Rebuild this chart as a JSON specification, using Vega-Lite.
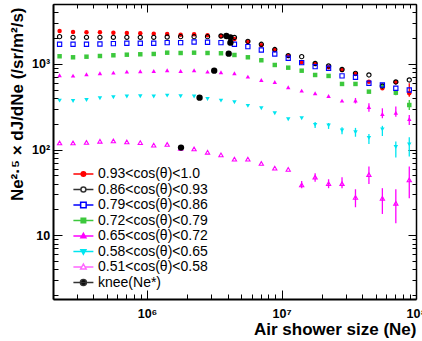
{
  "$schema": "https://vega.github.io/schema/vega-lite/v6.json",
  "width": 363,
  "height": 295,
  "autosize": {"type": "none"},
  "padding": {"left": 53, "top": 4, "right": 6, "bottom": 42},
  "background": "white",
  "config": {
    "view": {"stroke": null},
    "axis": {"grid": false, "tickColor": "black", "domainColor": "black", "tickWidth": 1, "labelFont": "Liberation Sans", "titleFont": "Liberation Sans", "labelColor": "black", "titleColor": "black"},
    "legend": {"rowPadding": 1.5}
  },
  "datasets": {
    "pts": [
      {"x": 223872, "a": 2421, "b": 2077, "c": 1693, "d": 1227, "e": 736, "f": 372, "g": 119.4},
      {"x": 281838, "a": 2357, "b": 2043, "c": 1693, "d": 1194, "e": 729, "f": 369, "g": 119.4},
      {"x": 354813, "a": 2338, "b": 2043, "c": 1693, "d": 1213, "e": 756, "f": 379, "g": 121},
      {"x": 446684, "a": 2338, "b": 2043, "c": 1707, "d": 1236, "e": 777, "f": 397, "g": 125},
      {"x": 562341, "a": 2313, "b": 2043, "c": 1721, "d": 1260, "e": 790, "f": 408, "g": 126},
      {"x": 707946, "a": 2294, "b": 2043, "c": 1740, "d": 1280, "e": 811, "f": 416, "g": 122.6},
      {"x": 891251, "a": 2276, "b": 2043, "c": 1740, "d": 1294, "e": 820, "f": 419, "g": 120.4},
      {"x": 1122018, "a": 2251, "b": 2043, "c": 1740, "d": 1305, "e": 826, "f": 416, "g": 112.5},
      {"x": 1412538, "a": 2233, "b": 2060, "c": 1768, "d": 1351, "e": 842, "f": 426, "g": 114.6},
      {"x": 1778279, "a": 2192, "b": 2077, "c": 1768, "d": 1340, "e": 826, "f": 419, "g": 103.5},
      {"x": 2238721, "a": 2215, "b": 2077, "c": 1801, "d": 1351, "e": 842, "f": 416, "g": 101.6},
      {"x": 2818383, "a": 2157, "b": 2077, "c": 1787, "d": 1340, "e": 811, "f": 389, "g": 93},
      {"x": 3548134, "a": 2116, "b": 2116, "c": 1768, "d": 1330, "e": 798, "f": 372, "g": 86.5},
      {"x": 4466836, "a": 1953, "b": 2033, "c": 1693, "d": 1270, "e": 777, "f": 356, "g": 77.3},
      {"x": 5623413, "a": 1816, "b": 1830, "c": 1588, "d": 1194, "e": 709, "f": 323, "g": 77.3},
      {"x": 7079458, "a": 1649, "b": 1693, "c": 1453, "d": 1102, "e": 649, "f": 303, "g": 68.8},
      {"x": 8912509, "a": 1453, "b": 1470, "c": 1305, "d": 971, "e": 615, "f": 265, "g": 60.7},
      {"x": 11220185, "a": 1236, "b": 1250, "c": 1162, "d": 903, "e": 533, "f": 226, "g": 58.6},
      {"x": 14125375, "a": 1044, "b": 1213, "c": 1033, "d": 833, "e": 487, "f": 232, "g": 38.6},
      {"x": 17782794, "a": 998, "b": 1010, "c": 928, "d": 742, "e": 454, "f": 194, "g": 47.5},
      {"x": 22387211, "a": 913, "b": 945, "c": 889, "d": 723, "e": 422, "f": 191, "g": 39.9},
      {"x": 28183829, "a": 849, "b": 860, "c": 723, "d": 583, "e": 372, "f": 167, "g": 39.9},
      {"x": 35481339, "a": 762, "b": 775, "c": 698, "d": 583, "e": 374, "f": 159, "g": 27.6},
      {"x": 44668359, "a": 620, "b": 742, "c": 594, "d": 474, "e": 314, "f": 137, "g": 50.9},
      {"x": 56234133, "a": 519, "b": 552, "c": 567, "d": 552, "e": 260, "f": 172, "g": 27.0},
      {"x": 70794578, "a": 610, "b": 615, "c": 519, "d": 461, "e": 269, "f": 107, "g": 23.6},
      {"x": 89125094, "a": 454, "b": 649, "c": 496, "d": 331, "e": 227, "f": 115, "g": 44.2}
    ],
    "err": [
      {"s": "g", "x": 14125375, "lo": 35.4, "hi": 43.0},
      {"s": "g", "x": 17782794, "lo": 42.2, "hi": 52.9},
      {"s": "g", "x": 22387211, "lo": 35.4, "hi": 45.0},
      {"s": "g", "x": 28183829, "lo": 35.4, "hi": 47.5},
      {"s": "g", "x": 35481339, "lo": 21.2, "hi": 34.4},
      {"s": "g", "x": 44668359, "lo": 39.7, "hi": 63.2},
      {"s": "g", "x": 56234133, "lo": 17.7, "hi": 35.4},
      {"s": "g", "x": 70794578, "lo": 13.8, "hi": 34.4},
      {"s": "g", "x": 89125094, "lo": 27.0, "hi": 63.2},
      {"s": "f", "x": 17782794, "lo": 179, "hi": 210},
      {"s": "f", "x": 22387211, "lo": 174, "hi": 204},
      {"s": "f", "x": 28183829, "lo": 151, "hi": 182},
      {"s": "f", "x": 35481339, "lo": 141, "hi": 179},
      {"s": "f", "x": 44668359, "lo": 116, "hi": 152},
      {"s": "f", "x": 56234133, "lo": 144, "hi": 189},
      {"s": "f", "x": 70794578, "lo": 81, "hi": 124},
      {"s": "f", "x": 89125094, "lo": 83, "hi": 139},
      {"s": "e", "x": 35481339, "lo": 345, "hi": 400},
      {"s": "e", "x": 44668359, "lo": 277, "hi": 347},
      {"s": "e", "x": 56234133, "lo": 232, "hi": 303},
      {"s": "e", "x": 70794578, "lo": 242, "hi": 317},
      {"s": "e", "x": 89125094, "lo": 194, "hi": 253},
      {"s": "d", "x": 70794578, "lo": 430, "hi": 495},
      {"s": "d", "x": 89125094, "lo": 290, "hi": 379},
      {"s": "a", "x": 89125094, "lo": 414, "hi": 594}
    ],
    "knee": [
      {"x": 3890000, "y": 2117},
      {"x": 4170000, "y": 2043},
      {"x": 4170000, "y": 1768},
      {"x": 4050000, "y": 1315},
      {"x": 3160000, "y": 833},
      {"x": 2460000, "y": 403},
      {"x": 1790000, "y": 105.3}
    ]
  },
  "resolve": {
    "scale": {"color": "independent", "shape": "independent", "fill": "independent", "stroke": "independent"},
    "axis": {"x": "independent", "y": "independent"}
  },
  "layer": [
    {
      "data": {"name": "err"},
      "mark": {"type": "rule", "strokeWidth": 1.3},
      "encoding": {
        "x": {"field": "x", "type": "quantitative",
          "scale": {"type": "log", "domain": [200000, 100000000], "nice": false},
          "axis": {"orient": "bottom", "values": [1000000, 10000000, 100000000], "tickSize": -9, "domainWidth": 2,
            "labelExpr": "datum.value == 1000000 ? '10⁶' : datum.value == 10000000 ? '10⁷' : '10⁸'",
            "labelFontWeight": "bold", "labelFontSize": 12.5, "labelPadding": 17, "labelFlush": false, "labelOverlap": false,
            "title": "Air shower size (Ne)", "titleFontSize": 17, "titleFontWeight": "bold",
            "titleX": 363, "titleY": 30, "titleAlign": "right", "titleBaseline": "middle"}},
        "y": {"field": "lo", "type": "quantitative",
          "scale": {"type": "log", "domain": [1.8, 5000], "nice": false},
          "axis": {"orient": "left", "values": [10, 100, 1000], "tickSize": -9, "domainWidth": 2,
            "labelExpr": "datum.value == 10 ? '10' : datum.value == 100 ? '10²' : '10³'",
            "labelFontWeight": "bold", "labelFontSize": 12.5, "labelPadding": 12.3, "labelFlush": false, "labelOverlap": false,
            "title": "Ne²·⁵ × dJ/dNe (/sr/m²/s)", "titleFontSize": 17, "titleFontWeight": "bold",
            "titleX": -36, "titleY": 3, "titleAngle": -90, "titleAlign": "right", "titleBaseline": "middle"}},
        "y2": {"field": "hi"},
        "color": {"field": "s", "type": "nominal",
          "scale": {"domain": ["a", "d", "e", "f", "g"], "range": ["#ff0000", "#3cc83c", "#ff00ff", "#00e5f0", "#ff00ff"]},
          "legend": null}
      }
    },
    {
      "data": {"name": "pts"},
      "transform": [
        {"fold": ["a", "b", "c", "d", "e", "f", "g"], "as": ["s", "y"]},
        {"filter": {"field": "s", "oneOf": ["a", "d", "e", "f"]}}
      ],
      "mark": {"type": "point", "filled": true, "opacity": 1, "size": 20},
      "encoding": {
        "x": {"field": "x", "type": "quantitative",
          "scale": {"type": "log", "domain": [200000, 100000000], "nice": false},
          "axis": {"orient": "bottom", "values": [200000, 300000, 400000, 500000, 600000, 700000, 800000, 900000, 2000000, 3000000, 4000000, 5000000, 6000000, 7000000, 8000000, 9000000, 20000000, 30000000, 40000000, 50000000, 60000000, 70000000, 80000000, 90000000],
            "tickSize": -5, "labels": false, "domain": false, "title": null}},
        "y": {"field": "y", "type": "quantitative",
          "scale": {"type": "log", "domain": [1.8, 5000], "nice": false},
          "axis": {"orient": "left", "values": [2, 3, 4, 5, 6, 7, 8, 9, 20, 30, 40, 50, 60, 70, 80, 90, 200, 300, 400, 500, 600, 700, 800, 900, 2000, 3000, 4000, 5000],
            "tickSize": -5, "labels": false, "domain": false, "title": null}},
        "color": {"field": "s", "type": "nominal",
          "scale": {"domain": ["a", "d", "e", "f"], "range": ["#ff0000", "#3cc83c", "#ff00ff", "#00e5f0"]}, "legend": null},
        "shape": {"field": "s", "type": "nominal",
          "scale": {"domain": ["a", "d", "e", "f"], "range": ["circle", "square", "triangle-up", "triangle-down"]}, "legend": null}
      }
    },
    {
      "data": {"name": "pts"},
      "transform": [
        {"fold": ["a", "b", "c", "d", "e", "f", "g"], "as": ["s", "y"]},
        {"filter": {"field": "s", "oneOf": ["b", "c", "g"]}}
      ],
      "mark": {"type": "point", "filled": false, "opacity": 1, "size": 18, "strokeWidth": 1.1},
      "encoding": {
        "x": {"field": "x", "type": "quantitative",
          "scale": {"type": "log", "domain": [200000, 100000000], "nice": false},
          "axis": {"orient": "top", "values": [1000000, 10000000, 100000000], "tickSize": -8, "labels": false, "domainWidth": 1.5, "title": null}},
        "y": {"field": "y", "type": "quantitative",
          "scale": {"type": "log", "domain": [1.8, 5000], "nice": false},
          "axis": {"orient": "right", "values": [10, 100, 1000], "tickSize": -8, "labels": false, "domainWidth": 1.5, "title": null}},
        "color": {"field": "s", "type": "nominal",
          "scale": {"domain": ["b", "c", "g"], "range": ["#000000", "#0000ff", "#ff00ff"]}, "legend": null},
        "shape": {"field": "s", "type": "nominal",
          "scale": {"domain": ["b", "c", "g"], "range": ["circle", "square", "triangle-up"]}, "legend": null}
      }
    },
    {
      "data": {"name": "knee"},
      "mark": {"type": "point", "filled": true, "opacity": 1, "size": 40, "color": "black", "shape": "circle"},
      "encoding": {
        "x": {"field": "x", "type": "quantitative",
          "scale": {"type": "log", "domain": [200000, 100000000], "nice": false},
          "axis": {"orient": "top", "values": [200000, 300000, 400000, 500000, 600000, 700000, 800000, 900000, 2000000, 3000000, 4000000, 5000000, 6000000, 7000000, 8000000, 9000000, 20000000, 30000000, 40000000, 50000000, 60000000, 70000000, 80000000, 90000000],
            "tickSize": -4, "labels": false, "domain": false, "title": null}},
        "y": {"field": "y", "type": "quantitative",
          "scale": {"type": "log", "domain": [1.8, 5000], "nice": false},
          "axis": {"orient": "right", "values": [2, 3, 4, 5, 6, 7, 8, 9, 20, 30, 40, 50, 60, 70, 80, 90, 200, 300, 400, 500, 600, 700, 800, 900, 2000, 3000, 4000, 5000],
            "tickSize": -4, "labels": false, "domain": false, "title": null}}
      }
    },
    {
      "data": {"values": []},
      "mark": {"type": "point", "filled": true, "opacity": 1},
      "encoding": {
        "fill": {"field": "s", "type": "nominal",
          "scale": {"domain": ["a", "b", "c", "d", "e", "f", "g", "h"], "range": ["#ff0000", "white", "white", "#3cc83c", "#ff00ff", "#00e5f0", "white", "#000000"]},
          "legend": {"orient": "none", "legendX": 23.4, "legendY": 163, "title": null, "padding": 0,
            "labelExpr": "{'a':'0.93<cos(θ)<1.0','b':'0.86<cos(θ)<0.93','c':'0.79<cos(θ)<0.86','d':'0.72<cos(θ)<0.79','e':'0.65<cos(θ)<0.72','f':'0.58<cos(θ)<0.65','g':'0.51<cos(θ)<0.58','h':'knee(Ne*)'}[datum.label]",
            "labelFont": "Liberation Sans", "labelFontSize": 14, "labelColor": "black", "labelLimit": 400,
            "symbolSize": 100, "symbolStrokeWidth": 1.5, "labelOffset": 7.6, "rowPadding": 1.5}},
        "stroke": {"field": "s", "type": "nominal",
          "scale": {"domain": ["a", "b", "c", "d", "e", "f", "g", "h"], "range": ["#ff0000", "#333333", "#0000ff", "#3cc83c", "#ff00ff", "#00e5f0", "#ff66ff", "#333333"]},
          "legend": {"orient": "none", "legendX": 23.4, "legendY": 163, "title": null, "padding": 0,
            "labelExpr": "{'a':'0.93<cos(θ)<1.0','b':'0.86<cos(θ)<0.93','c':'0.79<cos(θ)<0.86','d':'0.72<cos(θ)<0.79','e':'0.65<cos(θ)<0.72','f':'0.58<cos(θ)<0.65','g':'0.51<cos(θ)<0.58','h':'knee(Ne*)'}[datum.label]",
            "labelFont": "Liberation Sans", "labelFontSize": 14, "labelColor": "black", "labelLimit": 400,
            "symbolSize": 100, "symbolStrokeWidth": 1.5, "labelOffset": 7.6, "rowPadding": 1.5}},
        "shape": {"field": "s", "type": "nominal",
          "scale": {"domain": ["a", "b", "c", "d", "e", "f", "g", "h"], "range": [
            "M-2,0H2M0.45,0A0.45,0.45,0,1,1,-0.45,0A0.45,0.45,0,1,1,0.45,0Z",
            "M-2,0H-0.5M0.5,0H2M0.5,0A0.5,0.5,0,1,1,-0.5,0A0.5,0.5,0,1,1,0.5,0Z",
            "M-2,0H-0.55M0.55,0H2M-0.55,-0.55H0.55V0.55H-0.55Z",
            "M-2,0H2M-0.45,-0.45H0.45V0.45H-0.45Z",
            "M-2,0H2M0,-0.55L0.5,0.35H-0.5Z",
            "M-2,0H2M0,0.55L0.5,-0.35H-0.5Z",
            "M-2,0H-0.4M0.4,0H2M0,-0.6L0.55,0.4H-0.55Z",
            "M-2,0H2M0.6,0A0.6,0.6,0,1,1,-0.6,0A0.6,0.6,0,1,1,0.6,0Z"]},
          "legend": {"orient": "none", "legendX": 23.4, "legendY": 163, "title": null, "padding": 0,
            "labelExpr": "{'a':'0.93<cos(θ)<1.0','b':'0.86<cos(θ)<0.93','c':'0.79<cos(θ)<0.86','d':'0.72<cos(θ)<0.79','e':'0.65<cos(θ)<0.72','f':'0.58<cos(θ)<0.65','g':'0.51<cos(θ)<0.58','h':'knee(Ne*)'}[datum.label]",
            "labelFont": "Liberation Sans", "labelFontSize": 14, "labelColor": "black", "labelLimit": 400,
            "symbolSize": 100, "symbolStrokeWidth": 1.5, "labelOffset": 7.6, "rowPadding": 1.5}}
      }
    }
  ]
}
